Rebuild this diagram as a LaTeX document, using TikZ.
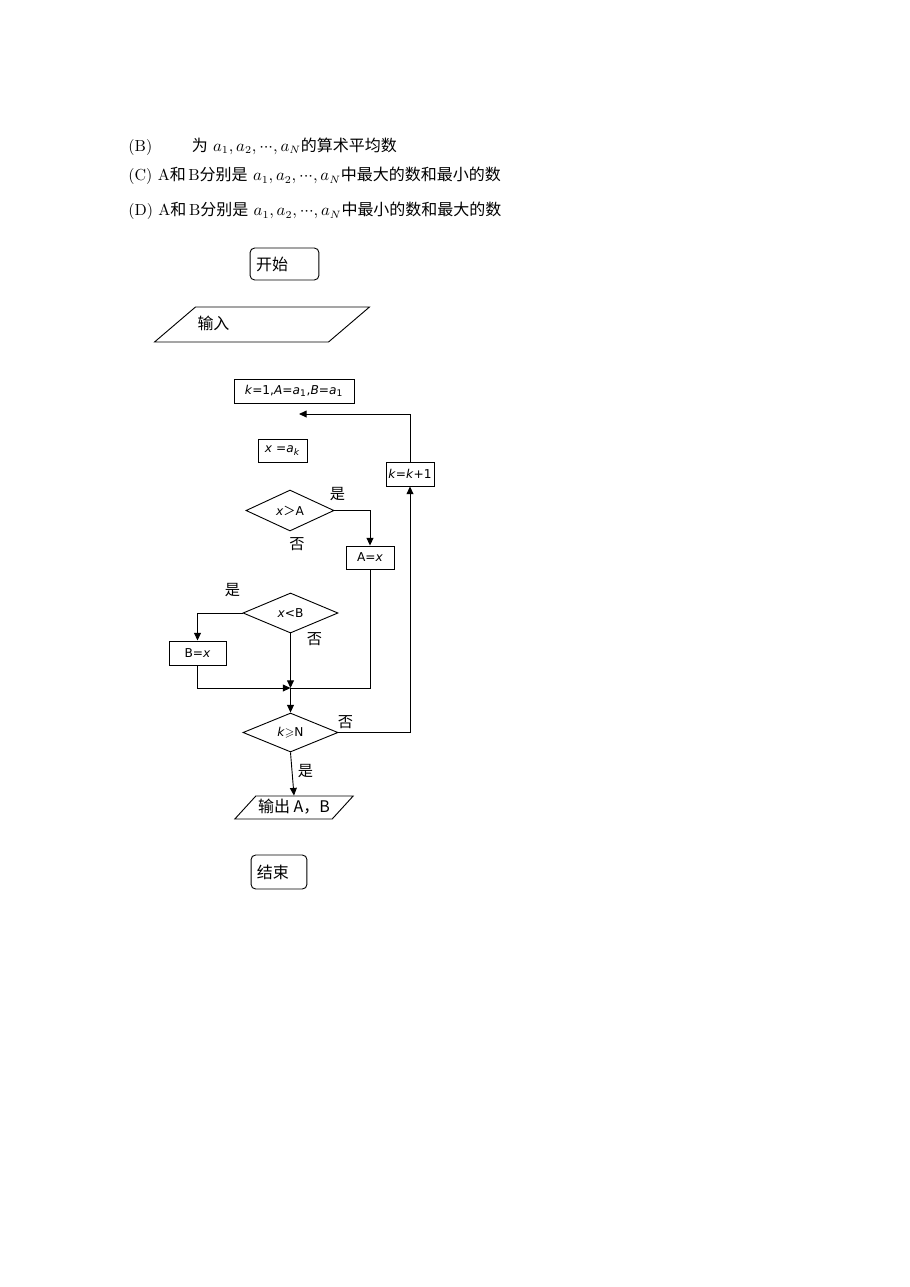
\documentclass[tikz,border=0pt]{standalone}
\usepackage{amsmath}
\usepackage{amssymb}
\usepackage{fontspec}
\setsansfont{DejaVu Sans}
\newfontfamily\cjk{Noto Sans CJK SC}
\usetikzlibrary{shapes.geometric,arrows.meta}
\newcommand{\aseq}{$a_1, a_2, {\cdot}{\cdot}{\cdot}, a_N$}
\tikzset{% 
  chart/.style = {
    x=0.6566pt, y=-0.6566pt, line width=0.6pt,
    >={Triangle[length=5pt,width=4.5pt]}
  },
  terminal/.style = {draw, rounded corners=3pt, align=left,
    inner xsep=3.9pt, inner ysep=0pt,
    font=\cjk\fontsize{10.5}{12}\selectfont},
  process/.style = {draw, rectangle, inner sep=0pt,
    font=\sffamily\fontsize{8}{9.6}\selectfont},
  decision/.style = {draw, diamond, shape aspect=2.2, inner sep=0pt,
    font=\sffamily\fontsize{8}{9.6}\selectfont},
  io/.style = {draw, trapezium, text height=8.5pt, text depth=1.8pt,
    font=\cjk\fontsize{10.5}{12}\selectfont},
  tag/.style = {inner sep=0pt, font=\cjk\fontsize{10}{12}\selectfont},
  option/.style = {anchor=west, inner sep=0pt, font=\fontsize{10.5}{12}\selectfont}
}

\begin{document}
\begin{tikzpicture}[chart]
	\useasboundingbox (0,0) rectangle (910,1287);
	% answer choices
	\node[option] (optB) at (128,146.5)
	  {(B)\hspace{26pt}{\cjk 为} \aseq{\cjk 的算术平均数}};
	\node[option] (optC) at (128,176)
	  {(C) A{\cjk 和}\,B{\cjk 分别是} \aseq{\cjk 中最大的数和最小的数}};
	\node[option] (optD) at (128,211)
	  {(D) A{\cjk 和}\,B{\cjk 分别是} \aseq{\cjk 中最小的数和最大的数}};

	% flow chart
	\node[terminal, text width=37.4pt, minimum height=21pt] (start) at (284.5,264) {开始};
	\node[io, align=left, text width=84.7pt, inner xsep=1.3pt, inner ysep=6.35pt,
	  trapezium left angle=40.5, trapezium right angle=139.5] (input) at (262,324.5) {输入};
	\node[process, minimum width=78.8pt, minimum height=15.8pt] (init) at (294,391)
	  {\textit{k}=1,\textit{A}=\textit{a}\textsubscript{1},\textit{B}=\textit{a}\textsubscript{1}};
	\node[process, minimum width=32.2pt, minimum height=15.1pt] (takex) at (282.5,450.5)
	  {\textit{x} =\textit{a}\textsubscript{\textit{k}}};
	\node[process, minimum width=31.5pt, minimum height=15.8pt] (incr) at (410,474)
	  {\textit{k}=\textit{k}+1};
	\node[decision, minimum width=57.8pt, minimum height=26.9pt] (gtA) at (290,510.5)
	  {\textit{x}{\cjk ＞}A\hspace{4pt}};
	\node[process, minimum width=31.5pt, minimum height=15.1pt] (setA) at (370,557.5)
	  {A=\textit{x}};
	\node[decision, minimum width=62.4pt, minimum height=26.3pt] (ltB) at (290.5,613)
	  {\textit{x}<B};
	\node[process, minimum width=37.4pt, minimum height=15.8pt] (setB) at (197.5,653)
	  {B=\textit{x}};
	\node[decision, minimum width=62.4pt, minimum height=25.6pt] (geN) at (290.5,732.5)
	  {\textit{k}$\geqslant$N};
	\node[io, inner xsep=1.5pt, inner ysep=2.4pt,
	  trapezium left angle=47.6, trapezium right angle=132.4] (output) at (294,807.5)
	  {输出 A，B};
	\node[terminal, text width=28.9pt, minimum height=22.3pt] (stop) at (279,872) {结束};

	% branch labels
	\node[tag] (yesA) at (337.5,494.5) {是};
	\node[tag] (noA) at (297,544) {否};
	\node[tag] (yesB) at (232.5,590.5) {是};
	\node[tag] (noB) at (314.5,639.5) {否};
	\node[tag] (noN) at (345.5,722.5) {否};
	\node[tag] (yesN) at (305.5,771.5) {是};

	% connectors
	\coordinate (back) at (299,414);
	\coordinate (join) at (290.5,688);
	\draw[->] (incr.north) |- (back);
	\draw[->] (gtA.east) -| (setA.north);
	\draw (setA.south) |- (join);
	\draw[->] (setB.south) |- (join);
	\draw[->] (ltB.west) -| (setB.north);
	\draw[->] (ltB.south) -- (join);
	\draw[->] (join) -- (geN.north);
	\draw[->] (geN.east) -| (incr.south);
	\draw[->] (geN.south) -- (output.north);
\end{tikzpicture}
\end{document}
